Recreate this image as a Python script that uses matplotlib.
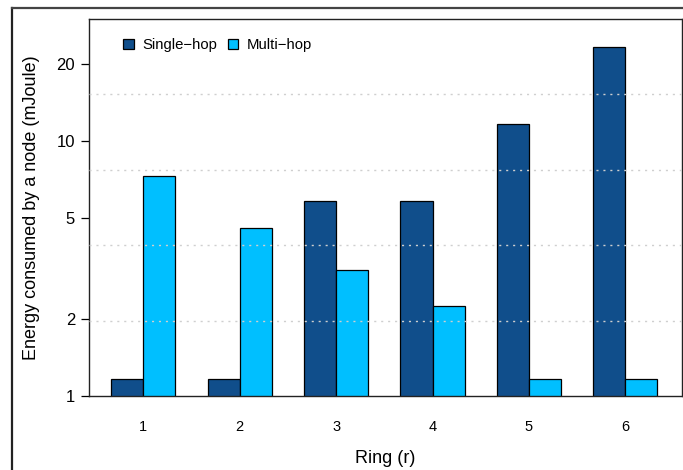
import matplotlib
matplotlib.use("Agg")
import matplotlib.pyplot as plt
from matplotlib.lines import Line2D
from matplotlib.patches import Patch
import numpy as np

plt.rcParams['font.family'] = ['Liberation Sans', 'DejaVu Sans']

rings = [1, 2, 3, 4, 5, 6]
ring_labels = ["1", "2", "3", "4", "5", "6"]
single_hop = [1.17, 1.17, 5.83, 5.83, 11.63, 23.26]
multi_hop = [7.29, 4.54, 3.12, 2.25, 1.17, 1.17]
y_ticks = [1, 2, 5, 10, 20]

c_single = "#104E8B"
c_multi = "#00BFFF"

W, H = 683, 470
fig = plt.figure(figsize=(W / 100, H / 100), dpi=100)
ax = fig.add_axes([89 / W, (H - 396) / H, (682.3 - 89) / W, (396 - 19) / H])

x = np.array(rings, dtype=float)
w = 1 / 3
ax.bar(x - w / 2, single_hop, width=w, bottom=0, color=c_single,
       edgecolor="black", linewidth=0.9, zorder=2, label="Single\u2212hop")
ax.bar(x + w / 2, multi_hop, width=w, bottom=0, color=c_multi,
       edgecolor="black", linewidth=0.9, zorder=2, label="Multi\u2212hop")

ax.set_yscale("log")
ax.set_ylim(1, 30)
ax.set_xlim(0.437, 6.591)

# dotted grid splitting the log range into five equal parts
for k in range(1, 5):
    ax.axhline(30 ** (k / 5), color="#cfcfcf", linestyle=(0, (1.5, 3.5)),
               linewidth=1.0, zorder=3)

ax.set_yticks(y_ticks)
ax.set_yticklabels([str(t) for t in y_ticks], fontsize=12)
ax.yaxis.set_minor_locator(matplotlib.ticker.NullLocator())
ax.tick_params(axis="y", direction="out", length=6, width=0.9, pad=4)

ax.set_xticks(rings)
ax.set_xticklabels(ring_labels, fontsize=10.5)
ax.tick_params(axis="x", length=0, pad=17)

for s in ax.spines.values():
    s.set_linewidth(1.0)
    s.set_color("#222222")

ax.set_xlabel("Ring (r)", fontsize=13, labelpad=12)
ax.set_ylabel("Energy consumed by a node (mJoule)", fontsize=13, labelpad=12)

handles = [Patch(facecolor=c_single, edgecolor="black", linewidth=0.9),
           Patch(facecolor=c_multi, edgecolor="black", linewidth=0.9)]
ax.legend(handles, ["Single\u2212hop", "Multi\u2212hop"], loc="upper left",
          ncol=2, frameon=False, fontsize=10.7, handlelength=0.7,
          handleheight=0.7, handletextpad=0.6, columnspacing=0.7,
          bbox_to_anchor=(0.035, 0.985))

# outer frame
fig.add_artist(Line2D([11.5 / W, 11.5 / W], [0, (H - 8) / H],
                      transform=fig.transFigure, color="#222222", linewidth=1.6))
fig.add_artist(Line2D([11.5 / W, 1], [(H - 8) / H, (H - 8) / H],
                      transform=fig.transFigure, color="#444444", linewidth=1.6))

fig.savefig("out.png", dpi=100)
